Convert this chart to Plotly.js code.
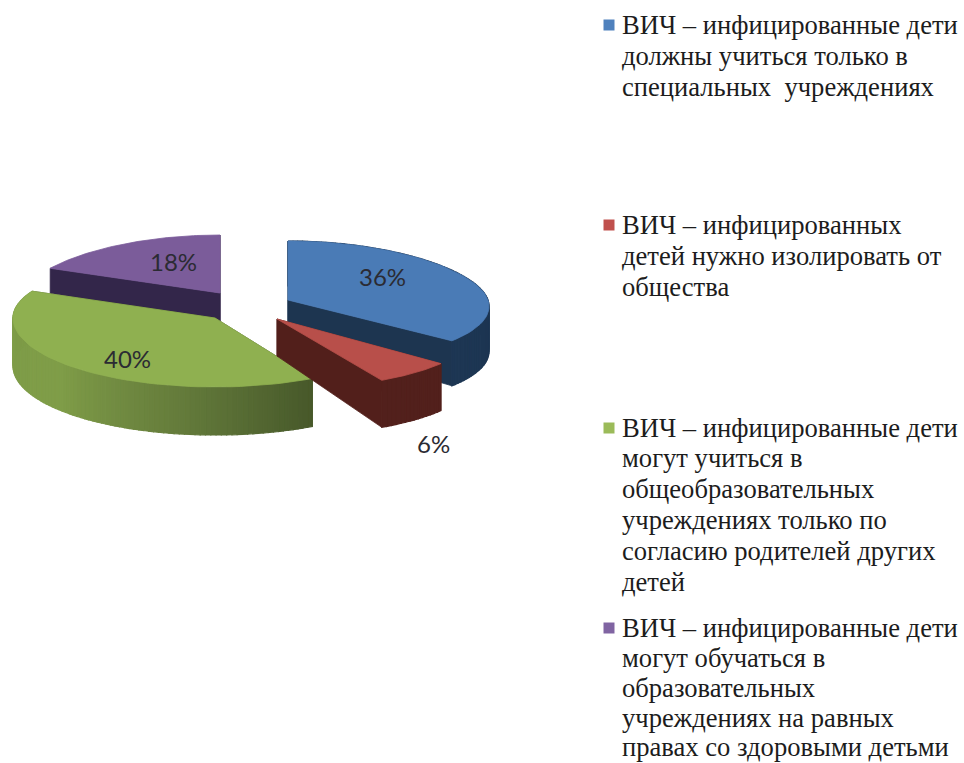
<!DOCTYPE html>
<html><head><meta charset="utf-8">
<script src="https://cdn.plot.ly/plotly-3.0.1.min.js"></script>
<style>html,body{margin:0;padding:0;background:#fff}#c{width:964px;height:763px}</style>
</head><body><div id="c"></div>
<script>
// Data
const categories = [
  "ВИЧ – инфицированные дети должны учиться только в специальных учреждениях",
  "ВИЧ – инфицированных детей нужно изолировать от общества",
  "ВИЧ – инфицированные дети могут учиться в общеобразовательных учреждениях только по согласию родителей других детей",
  "ВИЧ – инфицированные дети могут обучаться в образовательных учреждениях на равных правах со здоровыми детьми"
];
const values = [36, 6, 40, 18];
const legendLines = [
  ["ВИЧ – инфицированные дети", "должны учиться только в", "специальных  учреждениях"],
  ["ВИЧ – инфицированных", "детей нужно изолировать от", "общества"],
  ["ВИЧ – инфицированные дети", "могут учиться в", "общеобразовательных", "учреждениях только по", "согласию родителей других", "детей"],
  ["ВИЧ – инфицированные дети", "могут обучаться в", "образовательных", "учреждениях на равных", "правах со здоровыми детьми"]
];
const legendColors = ["#4f81bd", "#c0504d", "#9bbb59", "#8064a2"];

// Layout of the drawing
const legendY = [[25,56,87],[225,256,287],[428,458,489,520,551,582],[628,658,688,718,747]];
const labelPos = [[382,276],[433,443],[127,358],[173,261]];
const sliceGeom = [
  {cx:288, cy:300, rx:200, persp:0.1, back:59, front:64, apexD:38, rimD:45, top:"#4a7bb6", inner:"#1d3550", wall:[[0,"#1b3350"],[1,"#1d3653"]]},
  {cx:277, cy:319, rx:200, persp:0.1, back:60, front:70, apexD:37, rimD:47, top:"#b84f4a", inner:"#521f1b", wall:[[0,"#52201c"],[1,"#52201c"]]},
  {cx:215, cy:318, rx:202, persp:0,   back:63, front:69, apexD:40, rimD:48, top:"#8fb050", inner:"#4a5a28", wall:[[0,"#47582a"],[0.25,"#62793a"],[0.55,"#7f9d48"],[1,"#7d9b47"]]},
  {cx:220, cy:293, rx:196, persp:0.1, back:58, front:70, apexD:29, rimD:25, top:"#7b5c9a", inner:"#33264a", wall:[[0,"#33264a"],[1,"#33264a"]]}
];

function hex(c){return [1,3,5].map(i=>parseInt(c.substr(i,2),16));}
function ramp(stops,t){
  for(let i=1;i<stops.length;i++){
    if(t<=stops[i][0]){
      const u=(t-stops[i-1][0])/(stops[i][0]-stops[i-1][0]);
      const a=hex(stops[i-1][1]),b=hex(stops[i][1]);
      return "rgb("+a.map((v,k)=>Math.round(v+(b[k]-v)*u)).join(",")+")";
    }
  }
  return stops[stops.length-1][1];
}
function rim(g,deg){
  const r=deg*Math.PI/180,s=Math.sin(r),c=Math.cos(r);
  return [g.cx+g.rx*s*(1-g.persp*c), g.cy-c*(c>0?g.back:g.front)];
}
function poly(pts,color,name,w){
  return {type:"scatter",mode:"lines",x:pts.map(p=>p[0]),y:pts.map(p=>p[1]),fill:"toself",fillcolor:color,
    line:{color:color,width:w===undefined?0.8:w},hoverinfo:"skip",showlegend:false,name:name||""};
}
const total = values.reduce((a,b)=>a+b,0);
let acc=0;
const spans = values.map(v=>{const a=acc/total*360;acc+=v;return [a,acc/total*360];});

function sliceTraces(i){
  const g=sliceGeom[i],[a,b]=spans[i],out=[];
  const apex=[g.cx,g.cy],apexB=[g.cx,g.cy+g.apexD];
  const down=p=>[p[0],p[1]+g.rimD];
  const pa=rim(g,a),pb=rim(g,b);
  out.push(poly([apex,pa,down(pa),apexB,apex],g.inner));
  out.push(poly([apex,pb,down(pb),apexB,apex],g.inner));
  if(i!==3){
    const n=Math.max(2,Math.round((b-a)/1.5));
    for(let k=0;k<n;k++){
      const t0=a+(b-a)*k/n,t1=a+(b-a)*(k+1)/n;
      const p0=rim(g,t0),p1=rim(g,t1);
      out.push(poly([p0,p1,down(p1),down(p0),p0],ramp(g.wall,(k+0.5)/n),"",1.2));
    }
  }
  const top=[apex];
  for(let k=0;k<=60;k++) top.push(rim(g,a+(b-a)*k/60));
  top.push(apex);
  out.push(poly(top,g.top,categories[i]));
  return out;
}
const traces=[...sliceTraces(3),...sliceTraces(0),...sliceTraces(2),...sliceTraces(1)];

traces.push({type:"scatter",mode:"markers",x:legendColors.map(()=>609),y:legendY.map(l=>l[0]),
  marker:{symbol:"square",size:11,color:legendColors},hoverinfo:"skip",showlegend:false});

const annotations=[];
values.forEach((v,i)=>annotations.push({x:labelPos[i][0],y:labelPos[i][1],text:v+"%",showarrow:false,
  xanchor:"center",yanchor:"middle",font:{family:"Lato, 'Open Sans', sans-serif",size:24,color:"#2b2b33"}}));
legendLines.forEach((lines,i)=>lines.forEach((t,j)=>annotations.push({x:620,y:legendY[i][j],text:t,showarrow:false,
  xanchor:"left",yanchor:"middle",font:{family:"'Liberation Serif', serif",size:26.6,color:"#1c1c1c"}})));

const axis={visible:false,showgrid:false,zeroline:false,fixedrange:true};
Plotly.newPlot("c",traces,{
  width:964,height:763,margin:{l:0,r:0,t:0,b:0},paper_bgcolor:"#fff",plot_bgcolor:"#fff",showlegend:false,
  xaxis:{...axis,range:[0,964]},yaxis:{...axis,range:[763,0]},annotations
},{displayModeBar:false,staticPlot:true});
</script></body></html>
